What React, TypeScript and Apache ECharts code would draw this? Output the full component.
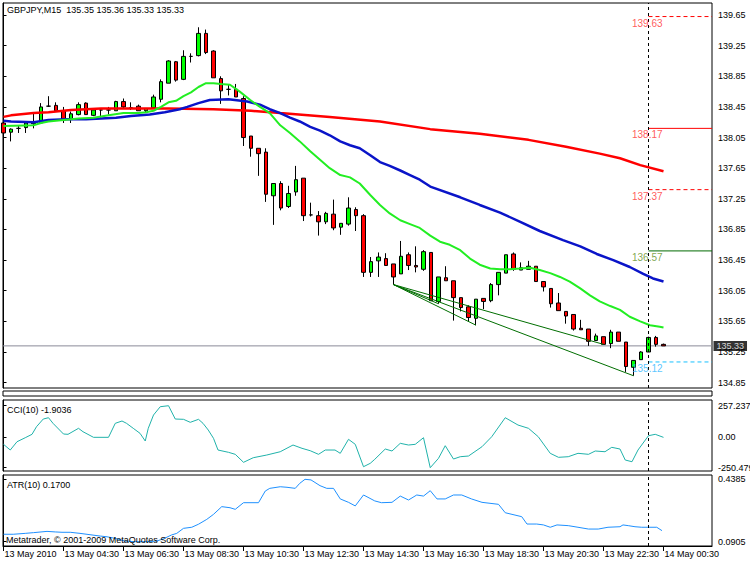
import React, { useEffect, useRef } from "react";
import * as echarts from "echarts";

// ---------- data ----------
const timeLabels = [
  "13 May 2010", "13 May 04:30", "13 May 06:30", "13 May 08:30", "13 May 10:30", "13 May 12:30",
  "13 May 14:30", "13 May 16:30", "13 May 18:30", "13 May 20:30", "13 May 22:30", "14 May 00:30",
];
const timeTickBars = [0, 8, 16, 24, 32, 40, 48, 56, 64, 72, 80, 88];
const priceTicks = [134.85, 135.25, 135.65, 136.05, 136.45, 136.85, 137.25, 137.65, 138.05, 138.45, 138.85, 139.25, 139.65];
const cciTicks = [-250.4795, 0, 257.2378];
const atrTicks = [0.0905, 0.4385];

const open = [
  138.24, 138.12, 138.17, 138.18, 138.23, 138.24, 138.46, 138.47, 138.40, 138.29,
  138.35, 138.50, 138.34, 138.41, 138.41, 138.40, 138.52, 138.44, 138.46, 138.40,
  138.44, 138.55, 138.76, 139.04, 138.81, 139.11, 139.12, 139.41, 139.18, 138.82,
  138.68, 138.68, 138.56, 138.07, 137.91, 137.86, 137.29, 137.45, 137.15, 137.34,
  137.52, 137.04, 137.03, 136.95, 137.05, 136.88, 136.92, 137.11, 137.03, 136.29,
  136.44, 136.47, 136.40, 136.27, 136.52, 136.38, 136.33, 136.55, 135.91, 136.22,
  136.18, 135.96, 135.84, 135.69, 135.95, 135.92, 136.13, 136.28, 136.53, 136.32,
  136.33, 136.37, 136.17, 136.08, 135.89, 135.78, 135.74, 135.56, 135.55, 135.40,
  135.45, 135.36, 135.51, 135.38, 135.05, 135.15, 135.25, 135.44, 135.35,
];
const high = [
  138.26, 138.17, 138.21, 138.26, 138.36, 138.50, 138.59, 138.51, 138.45, 138.39,
  138.51, 138.51, 138.42, 138.42, 138.45, 138.53, 138.56, 138.51, 138.48, 138.43,
  138.61, 138.81, 139.06, 139.05, 139.19, 139.15, 139.49, 139.46, 139.19, 138.85,
  138.74, 138.75, 138.59, 138.07, 137.91, 137.91, 137.45, 137.48, 137.42, 137.68,
  137.52, 137.20, 137.09, 137.08, 137.24, 136.93, 137.27, 137.14, 137.05, 136.49,
  136.55, 136.54, 136.40, 136.70, 136.55, 136.63, 136.58, 136.55, 136.23, 136.37,
  136.18, 135.96, 135.86, 135.94, 135.95, 136.15, 136.29, 136.52, 136.55, 136.42,
  136.44, 136.37, 136.17, 136.08, 136.02, 135.78, 135.74, 135.67, 135.55, 135.49,
  135.45, 135.54, 135.51, 135.38, 135.14, 135.26, 135.45, 135.46, 135.36,
];
const low = [
  138.07, 138.00, 138.11, 138.11, 138.17, 138.23, 138.45, 138.40, 138.24, 138.24,
  138.34, 138.35, 138.33, 138.31, 138.35, 138.40, 138.43, 138.41, 138.40, 138.37,
  138.44, 138.51, 138.76, 138.78, 138.80, 139.03, 139.11, 139.14, 138.83, 138.49,
  138.60, 138.58, 137.94, 137.80, 137.55, 137.21, 136.91, 137.10, 137.13, 137.29,
  136.96, 137.02, 136.77, 136.92, 136.84, 136.78, 136.90, 136.83, 136.23, 136.23,
  136.23, 136.38, 136.13, 136.27, 136.32, 136.29, 136.31, 135.92, 135.88, 136.18,
  135.66, 135.78, 135.65, 135.60, 135.81, 135.90, 135.99, 136.28, 136.31, 136.32,
  136.33, 136.17, 136.04, 135.83, 135.79, 135.62, 135.53, 135.54, 135.33, 135.40,
  135.35, 135.30, 135.39, 134.99, 134.94, 135.15, 135.25, 135.32, 135.33,
];
const close = [
  138.11, 138.16, 138.17, 138.24, 138.24, 138.45, 138.46, 138.40, 138.28, 138.36,
  138.48, 138.35, 138.41, 138.41, 138.41, 138.52, 138.45, 138.44, 138.40, 138.43,
  138.58, 138.78, 139.05, 138.80, 139.11, 139.11, 139.41, 139.16, 138.83, 138.66,
  138.68, 138.58, 138.05, 137.91, 137.84, 137.31, 137.45, 137.13, 137.32, 137.50,
  137.03, 137.04, 136.95, 137.06, 136.87, 136.93, 137.13, 137.03, 136.29, 136.43,
  136.49, 136.38, 136.23, 136.50, 136.38, 136.36, 136.56, 135.92, 136.23, 136.18,
  135.96, 135.83, 135.70, 135.94, 135.91, 136.13, 136.29, 136.52, 136.33, 136.35,
  136.37, 136.17, 136.10, 135.88, 135.79, 135.72, 135.55, 135.54, 135.39, 135.46,
  135.35, 135.51, 135.39, 135.06, 135.14, 135.25, 135.44, 135.35, 135.33,
];

// moving averages: [bar, price]
const maGreen = [
  [0, 138.20], [4, 138.21], [5, 138.24], [6, 138.26], [8, 138.28], [10, 138.30], [12, 138.31], [14, 138.34],
  [16, 138.37], [18, 138.37], [19, 138.38], [20, 138.40], [21, 138.45], [22, 138.51], [23, 138.53], [24, 138.59],
  [25, 138.64], [26, 138.71], [27, 138.76], [28, 138.76], [29, 138.75], [30.2, 138.74], [31.5, 138.65], [32.9, 138.54],
  [34.2, 138.45], [35.5, 138.37], [36.9, 138.21], [38.2, 138.11], [39.5, 138.00], [40.9, 137.87], [42.2, 137.76],
  [43.5, 137.65], [44.9, 137.56], [46.2, 137.53], [47.5, 137.45], [48.9, 137.30], [50.2, 137.17], [51.5, 137.06],
  [52.9, 136.97], [54.2, 136.92], [55.5, 136.87], [56.9, 136.77], [58.2, 136.69], [59.5, 136.65], [60.9, 136.58],
  [62.2, 136.47], [63.5, 136.39], [64.9, 136.34], [66.2, 136.33], [67.5, 136.33], [68.9, 136.34], [70.2, 136.35],
  [71.5, 136.32], [72.9, 136.28], [74.2, 136.23], [75.5, 136.17], [76.9, 136.08], [78.2, 135.99], [79.5, 135.91],
  [80.9, 135.85], [82.2, 135.80], [83.5, 135.71], [84.9, 135.65], [86.2, 135.60], [87.5, 135.58], [88, 135.57],
];
const maBlue = [
  [0, 138.27], [1, 138.26], [4, 138.25], [6, 138.28], [8.4, 138.29], [11, 138.29], [13, 138.30], [15, 138.31],
  [17, 138.33], [19.5, 138.35], [21.5, 138.38], [23.5, 138.42], [24.5, 138.45], [26, 138.50], [27.5, 138.54],
  [30, 138.55], [32.5, 138.52], [34.2, 138.48], [35.5, 138.42], [36.9, 138.37], [38.2, 138.31], [39.5, 138.26],
  [40.9, 138.19], [42.2, 138.14], [43.5, 138.08], [44.9, 138.00], [46.2, 137.95], [47.5, 137.91], [48.9, 137.82],
  [50.2, 137.73], [51.5, 137.68], [52.9, 137.62], [54.2, 137.56], [55.5, 137.50], [56.9, 137.41], [60.9, 137.27],
  [63.5, 137.17], [66.2, 137.07], [68.9, 136.95], [71.5, 136.83], [74.6, 136.71], [76.9, 136.63], [79.1, 136.53],
  [81.3, 136.45], [83.5, 136.36], [85.3, 136.27], [86.6, 136.21], [88, 136.17],
];
const maRed = [
  [0, 138.32], [1, 138.34], [4, 138.37], [6, 138.38], [9, 138.41], [13, 138.43], [22, 138.43], [28, 138.42],
  [33, 138.40], [36.9, 138.37], [43.5, 138.32], [50.2, 138.26], [56.9, 138.16], [63.5, 138.10], [70, 138.02],
  [75, 137.93], [79.5, 137.84], [82.2, 137.78], [84.9, 137.69], [88, 137.61],
];

// trend lines: [startBar, startPrice, endBar, endPrice]
const trendLines = [
  [52, 136.13, 58, 135.88],
  [52, 136.13, 63, 135.60],
  [52, 136.13, 80, 135.35],
  [52, 136.13, 84, 134.94],
];

// horizontal levels starting at the marked bar
const levelStartBar = 86;
const levelValues = [139.63, 138.17, 137.37, 136.57, 135.12];
const bidPrice = 135.33;

const cci = [
  [0, -59], [0.9, -105.7], [1.8, -37.7], [2.9, -4.9], [3.8, 22.9], [4.4, 85.2], [5.3, 148.2], [6, 158.9],
  [6.6, 113], [8, 25.4], [8.6, 22.9], [10, 72.1], [10.6, 44.2], [12, -1.6], [14, -1.6], [14.9, 113],
  [15.8, 131.9], [16.4, 113], [17.3, 72.1], [18.2, 31.1], [18.9, -31.9], [19.3, 72.1], [20, 181], [20.9, 249],
  [22, 257.2], [22.9, 148.2], [24, 145.8], [24.9, 121.2], [26, 145.8], [26.6, 113], [27.3, 58.1], [28, -9.8],
  [28.6, -105.7], [30, -124.5], [30.9, -140.9], [32, -206.4], [33.3, -168.7], [35.1, -146.6], [36.9, -119.6],
  [38.6, -64.7], [39.8, -91.7], [40.9, -111.4], [42, -140.9], [42.9, -105.7], [44.2, -105.7], [44.9, -132.7],
  [46, -18], [46.9, -59], [48, -242.4], [48.9, -214.6], [49.5, -181.8], [50.9, -97.5], [51.8, -113.8],
  [52.9, -50.8], [54, -64.7], [54.9, -59], [56, -4.9], [56.9, -250.5], [58, -173.6], [58.9, -70.4],
  [60, -179.4], [60.9, -160.5], [62, -154.8], [63.8, -78.6], [65.1, 3.3], [66.9, 158.9], [68.6, 99.1],
  [70, 72.1], [71.3, 3.3], [72.9, -132.7], [74, -165.4], [75.3, -160.5], [76.6, -132.7], [78, -140.9],
  [78.9, -113.8], [80.2, -119.6], [81.1, -83.5], [82.2, -97.5], [82.9, -187.6], [83.8, -201.5], [84.6, -105.7],
  [86, 11.5], [86.9, 22.9], [88, -1.9],
];
const atr = [
  [0, 0.132], [1.3, 0.132], [2.9, 0.137], [4, 0.141], [5.8, 0.148], [6.9, 0.145], [7.8, 0.143], [8.9, 0.143],
  [10.2, 0.137], [11.8, 0.128], [12.9, 0.122], [13.8, 0.118], [14.9, 0.109], [16.2, 0.094], [17.5, 0.0905],
  [19.1, 0.0905], [20.4, 0.094], [21.3, 0.106], [22.4, 0.128], [23.1, 0.137], [24, 0.165], [25.1, 0.171],
  [26, 0.188], [27.1, 0.215], [28, 0.243], [29.1, 0.286], [30.2, 0.28], [30.9, 0.271], [32, 0.308], [34, 0.308],
  [34.9, 0.373], [35.5, 0.388], [36.9, 0.397], [37.8, 0.394], [38.9, 0.388], [39.5, 0.416], [40.2, 0.4385],
  [41, 0.435], [42.2, 0.403], [43.1, 0.388], [44, 0.388], [44.9, 0.329], [46, 0.31], [46.9, 0.29], [48, 0.351],
  [48.6, 0.338], [49.5, 0.318], [50.4, 0.308], [51.8, 0.31], [52.9, 0.345], [54, 0.323], [55.1, 0.351],
  [56, 0.345], [56.9, 0.375], [57.8, 0.329], [58.9, 0.329], [60, 0.351], [61.1, 0.351], [62.4, 0.329],
  [63.8, 0.31], [66, 0.299], [66.9, 0.252], [67.8, 0.243], [69.1, 0.23], [69.8, 0.189], [71.1, 0.189],
  [72, 0.184], [72.9, 0.171], [73.8, 0.184], [75.3, 0.18], [76.6, 0.171], [78, 0.161], [79.3, 0.161],
  [80.6, 0.171], [82.2, 0.174], [82.6, 0.184], [83.3, 0.18], [84.2, 0.174], [85.1, 0.171], [87.1, 0.171],
  [87.8, 0.152],
];

// ---------- styling ----------
const FONT = "Liberation Sans";
const FS = 9;
const XMIN = -0.0667;
const XMAX = 94.4667;
const levelStyles = [
  { color: "#ff0000", type: [4, 3], text: "#ff3030" },
  { color: "#ff0000", type: "solid", text: "#ff3030" },
  { color: "#ff0000", type: [4, 3], text: "#ff3030" },
  { color: "#006a00", type: "solid", text: "#5f8f20" },
  { color: "#18c0ff", type: [4, 3], text: "#30b8ff" },
];

export default function App() {
  const ref = useRef<HTMLDivElement>(null);
  useEffect(() => {
    const chart = echarts.init(ref.current!, undefined, { renderer: "svg" });
    const vline = {
      silent: true,
      symbol: ["none", "none"],
      label: { show: false },
      lineStyle: { color: "#000", type: [3, 3], width: 1 },
      data: [{ xAxis: levelStartBar }],
    };
    const baseLabel = { fontFamily: FONT, fontSize: FS, color: "#000" };
    const gridBase = {
      left: 3, width: 709, show: true, borderColor: "#000", borderWidth: 1,
      backgroundColor: "#fff", containLabel: false, outerBoundsMode: "none",
    };
    const xAxes = [0, 1, 2].map((gi) => ({
      type: "value", gridIndex: gi, min: XMIN, max: XMAX, show: gi === 2,
      axisLine: { show: true, lineStyle: { color: "#000", width: 1 } },
      axisTick: { show: true, length: 5, customValues: timeTickBars, lineStyle: { color: "#000" } },
      axisLabel: {
        ...baseLabel, customValues: timeTickBars, align: "left", margin: 3, padding: [0, 0, 0, 1],
        formatter: (v: number) => timeLabels[timeTickBars.indexOf(Math.round(v))] ?? "",
      },
      splitLine: { show: false },
    }));
    const yCommon = {
      type: "value", position: "right",
      axisLine: { show: true, lineStyle: { color: "#000", width: 1 } },
      splitLine: { show: false },
    };
    const series: any[] = [
      {
        type: "line", xAxisIndex: 0, yAxisIndex: 0, z: 1, showSymbol: false, silent: true,
        data: [[XMIN, bidPrice], [XMAX, bidPrice]], lineStyle: { color: "#8a8a98", width: 1 },
      },
      {
        type: "candlestick", xAxisIndex: 0, yAxisIndex: 0, z: 2, barWidth: 4,
        data: open.map((o, i) => [i, o, close[i], low[i], high[i]]),
        itemStyle: {
          color: "#00ff00", color0: "#ff0000", borderColor: "#000", borderColor0: "#000",
          borderColorDoji: "#000", borderWidth: 1,
        },
        markLine: vline,
      },
      { type: "line", xAxisIndex: 0, yAxisIndex: 0, z: 3, showSymbol: false, data: maRed, lineStyle: { color: "#ff0000", width: 2.5 } },
      { type: "line", xAxisIndex: 0, yAxisIndex: 0, z: 3, showSymbol: false, data: maBlue, lineStyle: { color: "#0a14c8", width: 2.5 } },
      { type: "line", xAxisIndex: 0, yAxisIndex: 0, z: 3, showSymbol: false, data: maGreen, lineStyle: { color: "#22ee22", width: 2 } },
      ...trendLines.map((t) => ({
        type: "line", xAxisIndex: 0, yAxisIndex: 0, z: 4, showSymbol: false,
        data: [[t[0], t[1]], [t[2], t[3]]], lineStyle: { color: "#006e00", width: 1 },
      })),
      ...levelValues.map((v, k) => ({
        type: "line", xAxisIndex: 0, yAxisIndex: 0, z: 4, showSymbol: false,
        data: [[levelStartBar, v], [XMAX, v]],
        lineStyle: { color: levelStyles[k].color, width: 1, type: levelStyles[k].type },
      })),
      {
        type: "scatter", xAxisIndex: 0, yAxisIndex: 0, z: 5, symbolSize: 1, clip: false,
        itemStyle: { color: "rgba(0,0,0,0)" },
        data: levelValues.map((v, k) => ({
          value: [levelStartBar, v],
          label: {
            show: true, position: [-16, 2], align: "left", verticalAlign: "top",
            fontFamily: FONT, fontSize: 10, color: levelStyles[k].text,
            formatter: v.toFixed(2),
          },
        })),
      },
      {
        type: "scatter", xAxisIndex: 0, yAxisIndex: 0, z: 6, symbolSize: 1, clip: false,
        itemStyle: { color: "rgba(0,0,0,0)" },
        data: [[XMAX, bidPrice]],
        label: {
          show: true, position: "right", distance: 1, fontFamily: FONT, fontSize: FS,
          color: "#fff", backgroundColor: "#000", padding: [0, 3], lineHeight: 10,
          formatter: bidPrice.toFixed(2),
        },
      },
      {
        type: "line", xAxisIndex: 1, yAxisIndex: 1, showSymbol: false, data: cci,
        lineStyle: { color: "#20b2aa", width: 1 }, markLine: vline,
      },
      {
        type: "line", xAxisIndex: 2, yAxisIndex: 2, showSymbol: false, data: atr,
        lineStyle: { color: "#1e90ff", width: 1 }, markLine: vline,
      },
    ];
    chart.setOption({
      animation: false,
      backgroundColor: "#fff",
      textStyle: { fontFamily: FONT },
      grid: [
        { ...gridBase, top: 3, height: 385 },
        { ...gridBase, top: 400, height: 71 },
        { ...gridBase, top: 475, height: 71 },
      ],
      xAxis: xAxes,
      yAxis: [
        {
          ...yCommon, gridIndex: 0, min: 134.78, max: 139.807,
          axisTick: { show: true, length: 3, customValues: priceTicks, lineStyle: { color: "#000" } },
          axisLabel: { ...baseLabel, customValues: priceTicks, margin: 6, formatter: (v: number) => v.toFixed(2) },
        },
        {
          ...yCommon, gridIndex: 1, min: -277.5, max: 304,
          axisTick: { show: true, length: 3, customValues: cciTicks, lineStyle: { color: "#000" } },
          axisLabel: { ...baseLabel, customValues: cciTicks, margin: 6, formatter: (v: number) => (v === 0 ? "0.00" : String(v)) },
        },
        {
          ...yCommon, gridIndex: 2, min: 0.0665, max: 0.4625,
          axisTick: { show: true, length: 3, customValues: atrTicks, lineStyle: { color: "#000" } },
          axisLabel: { ...baseLabel, customValues: atrTicks, margin: 6, formatter: (v: number) => v.toFixed(4) },
        },
      ],
      graphic: [
        {
          type: "rect", shape: { x: 3, y: 391, width: 709, height: 5 },
          style: { fill: "#fff", stroke: "#000", lineWidth: 1 },
        },
        {
          type: "text", x: 7, y: 10,
          style: { text: "GBPJPY,M15  135.35 135.36 135.33 135.33", fontFamily: FONT, fontSize: FS, fill: "#000", verticalAlign: "middle" },
        },
        {
          type: "text", x: 7, y: 410,
          style: { text: "CCI(10) -1.9036", fontFamily: FONT, fontSize: FS, fill: "#000", verticalAlign: "middle" },
        },
        {
          type: "text", x: 7, y: 485,
          style: { text: "ATR(10) 0.1700", fontFamily: FONT, fontSize: FS, fill: "#000", verticalAlign: "middle" },
        },
        {
          type: "text", x: 6, y: 540, z: 10,
          style: { text: "Metatrader, © 2001-2009 MetaQuotes Software Corp.", fontFamily: FONT, fontSize: FS, fill: "#000", verticalAlign: "middle" },
        },
      ],
      series,
    });
    return () => chart.dispose();
  }, []);
  return <div ref={ref} style={{ position: "absolute", left: 0, top: 0, width: 750, height: 563 }} />;
}
